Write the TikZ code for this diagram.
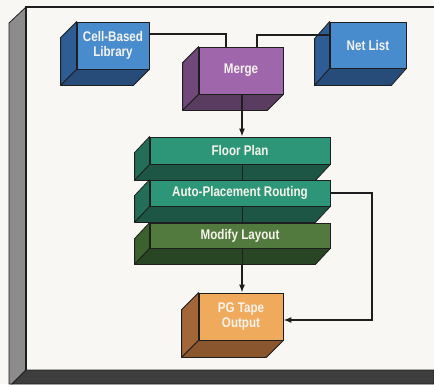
\documentclass[tikz,border=0pt]{standalone}
\usepackage{fontspec}
\setmainfont[FakeStretch=0.83]{Liberation Sans}
\usetikzlibrary{arrows.meta}
\definecolor{bg}{RGB}{249,247,243}
\definecolor{edge}{RGB}{30,30,30}
\definecolor{panel}{RGB}{140,140,140}
\definecolor{floorbar}{RGB}{62,62,62}
\definecolor{bluef}{RGB}{72,140,205}
\definecolor{blues}{RGB}{46,92,148}
\definecolor{blueb}{RGB}{40,76,122}
\definecolor{purf}{RGB}{160,102,172}
\definecolor{purs}{RGB}{112,72,122}
\definecolor{purb}{RGB}{90,60,96}
\definecolor{tealf}{RGB}{45,150,120}
\definecolor{teals}{RGB}{34,110,88}
\definecolor{tealb}{RGB}{30,86,70}
\definecolor{olivef}{RGB}{82,122,62}
\definecolor{olives}{RGB}{60,96,46}
\definecolor{oliveb}{RGB}{40,70,35}
\definecolor{orf}{RGB}{240,170,92}
\definecolor{ors}{RGB}{162,102,56}
\definecolor{orb}{RGB}{138,86,46}
\definecolor{txt}{RGB}{246,243,236}
\newcommand\extr[5]{%
  \filldraw[fill=#2,draw=edge,line width=0.8pt,line join=round] (#1.north west) -- ++(#4,#5) -- ([shift={(#4,#5)}]#1.south west) -- (#1.south west) -- cycle;
  \filldraw[fill=#3,draw=edge,line width=0.8pt,line join=round] (#1.south west) -- ++(#4,#5) -- ([shift={(#4,#5)}]#1.south east) -- (#1.south east) -- cycle;}
\tikzset{
  face/.style={draw=edge,line width=0.8pt,inner sep=0pt,text=txt,align=center,
    font=\bfseries\fontsize{14}{15}\selectfont},
  conn/.style={draw=edge,line width=1.3pt},
  arr/.style={conn,-{Latex[length=8pt,width=6pt]}}
}
\begin{document}
\begin{tikzpicture}[x=1pt,y=-1pt]
\useasboundingbox (0,0) rectangle (434,384);
\fill[bg] (0,0) rectangle (434,384);
% frame
\filldraw[fill=panel,draw=edge,line width=0.8pt] (26,7) -- (9,23) -- (9,384) -- (12,384) -- (26,370) -- cycle;
\filldraw[fill=floorbar,draw=edge,line width=0.8pt] (26,370) -- (434,370) -- (434,384) -- (12,384) -- cycle;
\draw[edge,line width=1.3pt] (434,7) -- (26,7) -- (26,370);
% boxes
\node[face,fill=bluef,minimum width=72pt,minimum height=47pt] (cbl) at (113,45.5) {Cell-Based\\Library};
\node[face,fill=bluef,minimum width=76pt,minimum height=46pt] (net) at (368,45) {Net List};
\node[face,fill=purf,minimum width=84pt,minimum height=47pt] (merge) at (241,70.5) {Merge};
\node[face,fill=tealf,minimum width=180pt,minimum height=27pt] (floor) at (240,150.5) {Floor Plan};
\node[face,fill=tealf,minimum width=180pt,minimum height=26pt] (auto) at (240,193) {Auto-Placement Routing};
\node[face,fill=olivef,minimum width=180pt,minimum height=25pt] (mod) at (240,235.5) {Modify Layout};
\node[face,fill=orf,minimum width=84pt,minimum height=47pt] (pg) at (241,316.5) {PG Tape\\Output};
\extr{cbl}{blues}{blueb}{-16}{16}
\extr{net}{blues}{blueb}{-15}{17}
\extr{merge}{purs}{purb}{-16}{16}
\extr{floor}{teals}{tealb}{-15}{16}
\extr{auto}{teals}{tealb}{-15}{16}
\extr{mod}{olives}{oliveb}{-15}{16}
\extr{pg}{ors}{orb}{-17}{17}
% connectors
\coordinate (m1) at (226,47);
\coordinate (m2) at (257,47);
\draw[conn] (cbl.east |- 0,34) -- (m1 |- 0,34) -- (m1);
\draw[conn] (net.west |- 0,35) -- ([xshift=-15pt]net.west |- 0,35);
\draw[conn] (net.west |- 0,35) -- (m2 |- 0,35) -- (m2);
\draw[arr] (merge.south -| 242,0) -- (floor.north -| 242,0);
\draw[edge,line width=1pt] (floor.south -| 242,0) -- ++(0,16);
\draw[edge,line width=1pt] (auto.south -| 242,0) -- ++(0,16);
\draw[edge,line width=1pt] (mod.south -| 242,0) -- ++(0,17);
\draw[arr] ([yshift=-16pt]mod.south -| 242,0) -- (pg.north -| 242,0);
\coordinate (r1) at (372,193);
\draw[arr] (auto.east) -- (r1) -- (r1 |- 0,320) -- (pg.east |- 0,320);
\end{tikzpicture}
\end{document}
